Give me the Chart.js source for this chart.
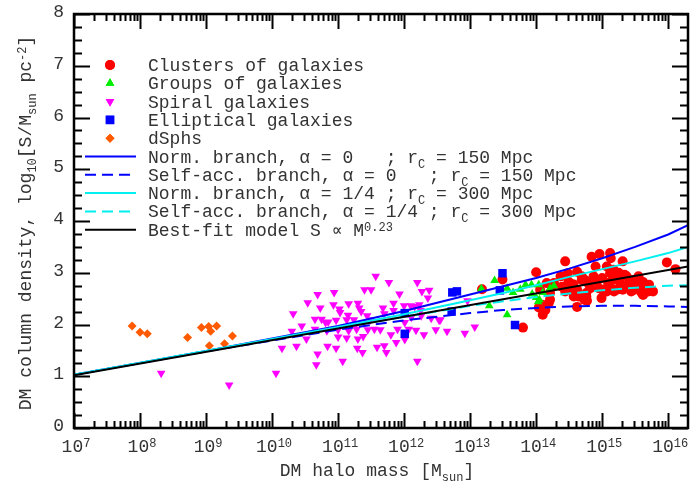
<!DOCTYPE html>
<html>
<head>
<meta charset="utf-8">
<script src="https://cdn.jsdelivr.net/npm/chart.js@4/dist/chart.umd.min.js"></script>
<style>
  html, body { margin: 0; padding: 0; background: #fff; }
</style>
</head>
<body>
<canvas id="chart" width="694" height="486"></canvas>
<script>
// log10(M / Msun) and log10(S / Msun pc^-2) for each sample
const clusterLogM = [13.18, 13.49, 13.80, 14.00, 14.04, 14.10, 14.14, 14.21, 14.27, 14.21, 14.19, 14.16, 14.24, 14.06, 14.09,
  14.37, 14.39, 14.44, 14.48, 14.49, 14.44, 14.52, 14.56, 14.57, 14.62, 14.62, 14.62, 14.64, 14.69, 14.69, 14.73, 14.74,
  14.76, 14.76, 14.77, 14.80, 14.82, 14.84, 14.87, 14.90, 14.92, 14.95, 14.96, 14.99, 15.00, 15.01, 15.07, 15.07, 15.09,
  15.12, 15.13, 15.12, 15.14, 15.15, 15.17, 15.18, 15.19, 15.22, 15.25, 15.26, 15.31, 15.31, 15.34, 15.37, 15.39, 15.44,
  15.46, 15.49, 15.52, 15.55, 15.55, 15.60, 15.62, 15.62, 15.65, 15.70, 15.71, 15.77, 15.98, 16.11];
const clusterLogS = [2.68, 2.87, 1.94, 3.01, 2.33, 2.19, 2.28, 2.48, 2.80, 2.61, 2.41, 2.80, 2.72, 2.67, 2.38,
  2.93, 2.73, 3.22, 2.99, 2.83, 2.64, 2.70, 2.78, 2.54, 2.34, 3.02, 2.67, 2.54, 2.86, 2.93, 2.48, 2.86,
  2.61, 2.54, 2.46, 2.78, 2.70, 3.31, 2.93, 3.12, 2.83, 2.70, 3.36, 2.51, 2.90, 2.67, 3.12, 2.64, 2.80,
  3.38, 3.28, 2.99, 2.68, 2.85, 3.06, 2.64, 2.93, 2.67, 3.00, 2.83, 3.22, 2.67, 2.96, 2.93, 2.77, 2.64,
  2.86, 2.67, 2.80, 2.93, 2.75, 2.61, 2.57, 2.82, 2.70, 2.64, 2.77, 2.64, 3.20, 3.07];

const groupLogM = [13.17, 13.37, 13.29, 13.56, 13.56, 13.76, 13.84, 13.93, 14.04, 13.94, 14.00, 14.03, 14.21, 14.27, 14.10, 13.65, 14.05];
const groupLogS = [2.69, 2.85, 2.36, 2.19, 2.70, 2.68, 2.77, 2.77, 2.77, 2.59, 2.52, 2.44, 2.70, 2.75, 2.62, 2.62, 2.48];

const spiralLogM = [8.32, 9.35, 10.06, 10.15, 10.30, 10.32, 10.37, 10.45, 10.52, 10.54, 10.65, 10.65, 10.67, 10.69, 10.69,
  10.73, 10.75, 10.81, 10.83, 10.84, 10.85, 10.93, 10.94, 10.97, 10.97, 11.00, 11.00, 11.02, 11.03, 11.07, 11.13, 11.13,
  11.15, 11.16, 11.16, 11.24, 11.27, 11.28, 11.29, 11.30, 11.30, 11.32, 11.35, 11.37, 11.38, 11.39, 11.40, 11.44, 11.45,
  11.49, 11.50, 11.55, 11.57, 11.59, 11.64, 11.68, 11.70, 11.70, 11.73, 11.77, 11.80, 11.84, 11.84, 11.88, 11.90, 11.93,
  12.00, 12.01, 12.01, 12.07, 12.10, 12.11, 12.16, 12.18, 12.20, 12.20, 12.23, 12.25, 12.26, 12.27, 12.30, 12.36, 12.38,
  12.41, 12.48, 12.53, 12.55, 12.65, 12.92, 13.07, 12.96];
const spiralLogS = [1.06, 0.83, 1.06, 1.54, 1.87, 2.21, 1.58, 1.97, 1.72, 2.42, 1.91, 2.10, 1.22, 1.43, 2.58,
  2.32, 2.10, 2.04, 1.88, 1.58, 2.05, 2.38, 2.62, 1.54, 2.08, 1.90, 1.76, 2.30, 2.23, 1.29, 1.74, 2.09,
  2.18, 2.40, 1.88, 2.09, 2.01, 1.91, 1.54, 2.41, 1.72, 2.32, 2.25, 1.46, 1.77, 2.04, 2.67, 2.17, 1.90,
  2.09, 2.67, 1.91, 2.93, 1.56, 1.90, 2.32, 1.59, 2.21, 1.46, 2.81, 1.80, 2.41, 2.27, 1.65, 1.91, 2.59,
  2.36, 2.04, 1.71, 1.91, 2.36, 2.14, 2.35, 1.89, 2.81, 1.29, 2.38, 2.27, 2.17, 2.64, 1.80, 2.51, 2.66,
  2.12, 1.90, 2.08, 2.09, 1.87, 1.83, 1.95, 2.46];

const ellipticalLogM = [12.01, 12.01, 12.72, 12.73, 12.80, 13.45, 13.49, 13.68];
const ellipticalLogS = [1.82, 2.22, 2.25, 2.62, 2.64, 2.66, 2.99, 1.99];

const dsphLogM = [7.88, 8.00, 8.11, 8.72, 8.93, 9.04, 9.07, 9.16, 9.05, 9.28, 9.40];
const dsphLogS = [1.97, 1.85, 1.82, 1.75, 1.94, 1.96, 1.87, 1.97, 1.59, 1.63, 1.78];

// model curves
const modelLogM = [7, 9, 11, 12, 13, 13.5, 14, 14.5, 15, 15.5, 16, 16.3];
const normAlpha0 = [1.03, 1.49, 1.97, 2.26, 2.58, 2.74, 2.90, 3.08, 3.28, 3.50, 3.74, 3.92];
const selfAlpha0 = [1.03, 1.48, 1.90, 2.08, 2.22, 2.28, 2.32, 2.35, 2.36, 2.36, 2.35, 2.34];
const normAlphaQ = [1.03, 1.49, 1.95, 2.20, 2.47, 2.61, 2.76, 2.92, 3.07, 3.22, 3.38, 3.50];
const selfAlphaQ = [1.03, 1.49, 1.93, 2.15, 2.36, 2.45, 2.53, 2.60, 2.66, 2.71, 2.75, 2.76];
const bestFitLogM = [7, 16.3];
const bestFit = [1.02, 3.12];

const xTickExps = [7, 8, 9, 10, 11, 12, 13, 14, 15, 16];
const yTickLabels = [0, 1, 2, 3, 4, 5, 6, 7, 8];

const FONT = '"Liberation Mono", "Courier New", monospace';
const TEXT = '#333';
const BLUE = '#0000ff';
const CYAN = '#00f0f0';

const pts = (ms, ss) => ms.map((m, i) => ({ x: 10 ** m, y: ss[i] }));

function lineSet(label, ms, ss, color, dash) {
  return {
    type: 'line', label, data: pts(ms, ss), borderColor: color, borderWidth: 2,
    borderDash: dash || [], pointRadius: 0, fill: false, tension: 0
  };
}
function pointSet(label, ms, ss, color, style, radius, rotation) {
  return {
    type: 'scatter', label, data: pts(ms, ss), pointStyle: style, pointRadius: radius,
    pointRotation: rotation || 0, backgroundColor: color, borderColor: color, pointBorderWidth: 0
  };
}

const DASH = [11, 6];
const legendRows = [
  { kind: 'pt', color: '#ff0000', style: 'circle', r: 5, text: [['Clusters of galaxies', 0]] },
  { kind: 'pt', color: '#00ee00', style: 'triangle', r: 5, text: [['Groups of galaxies', 0]] },
  { kind: 'pt', color: '#ff00ff', style: 'triangle', r: 5, rot: 180, text: [['Spiral galaxies', 0]] },
  { kind: 'pt', color: BLUE, style: 'rect', r: 6, text: [['Elliptical galaxies', 0]] },
  { kind: 'pt', color: '#ff5a00', style: 'rectRot', r: 4.5, text: [['dSphs', 0]] },
  { kind: 'ln', color: BLUE, text: [['Norm. branch, \u03b1 = 0   ; r', 0], ['C', -1], [' = 150 Mpc', 0]] },
  { kind: 'ln', color: BLUE, dash: DASH, text: [['Self-acc. branch, \u03b1 = 0   ; r', 0], ['C', -1], [' = 150 Mpc', 0]] },
  { kind: 'ln', color: CYAN, text: [['Norm. branch, \u03b1 = 1/4 ; r', 0], ['C', -1], [' = 300 Mpc', 0]] },
  { kind: 'ln', color: CYAN, dash: DASH, text: [['Self-acc. branch, \u03b1 = 1/4 ; r', 0], ['C', -1], [' = 300 Mpc', 0]] },
  { kind: 'ln', color: '#000', text: [['Best-fit model S \u221d M', 0], ['0.23', 1]] }
];

// draws text with super/subscripts; kind 0 normal, 1 sup, -1 sub
function rich(ctx, parts, x, y, align) {
  const fontOf = k => (k ? 12 : 18) + 'px ' + FONT;
  let w = 0;
  for (const [t, k] of parts) { ctx.font = fontOf(k); w += ctx.measureText(t).width; }
  let cx = align === 'center' ? x - w / 2 : align === 'right' ? x - w : x;
  ctx.textAlign = 'left';
  ctx.textBaseline = 'alphabetic';
  for (const [t, k] of parts) {
    ctx.font = fontOf(k);
    ctx.fillText(t, cx, y + (k === 1 ? -5 : k === -1 ? 5 : 0));
    cx += ctx.measureText(t).width;
  }
}

const decorations = {
  id: 'decorations',
  beforeDraw(chart) {
    const { ctx, width, height } = chart;
    ctx.save();
    ctx.fillStyle = '#fff';
    ctx.fillRect(0, 0, width, height);
    ctx.restore();
  },
  afterDatasetsDraw(chart) {
    const { ctx, chartArea: a, scales: { x, y } } = chart;
    ctx.save();
    ctx.strokeStyle = '#000';
    ctx.lineWidth = 2;
    ctx.beginPath();
    // x ticks, bottom and top, pointing inwards
    for (const n of xTickExps) {
      for (let k = 1; k <= 9; k++) {
        const v = k * 10 ** n;
        if (v > x.max * 1.0001) break;
        const px = Math.round(x.getPixelForValue(v)) + 0.5;
        const len = k === 1 ? 15 : 7;
        ctx.moveTo(px, a.bottom); ctx.lineTo(px, a.bottom - len);
        ctx.moveTo(px, a.top); ctx.lineTo(px, a.top + len);
      }
    }
    // y ticks every 0.25, left and right
    for (let v = 0; v <= 8; v += 0.25) {
      const py = Math.round(y.getPixelForValue(v)) + 0.5;
      const len = Number.isInteger(v) ? 16 : 8;
      ctx.moveTo(a.left, py); ctx.lineTo(a.left + len, py);
      ctx.moveTo(a.right, py); ctx.lineTo(a.right - len, py);
    }
    ctx.stroke();
    ctx.lineWidth = 2.5;
    ctx.strokeRect(a.left, a.top, a.right - a.left, a.bottom - a.top);
    ctx.restore();
  },
  afterDraw(chart) {
    const { ctx, chartArea: a, scales: { x, y } } = chart;
    ctx.save();
    ctx.fillStyle = TEXT;

    for (const n of xTickExps) {
      rich(ctx, [['10', 0], [String(n), 1]], x.getPixelForValue(10 ** n) + 2, 452, 'center');
    }
    for (const v of yTickLabels) {
      rich(ctx, [[String(v), 0]], 64, y.getPixelForValue(v) + 3, 'right');
    }

    rich(ctx, [['DM halo mass [M', 0], ['sun', -1], [']', 0]], 377, 476, 'center');

    ctx.save();
    ctx.translate(31, (a.top + a.bottom) / 2 + 2);
    ctx.rotate(-Math.PI / 2);
    rich(ctx, [['DM column density, log', 0], ['10', -1], ['[S/M', 0], ['sun', -1], [' pc', 0], ['-2', 1], [']', 0]], 0, 0, 'center');
    ctx.restore();

    // legend
    legendRows.forEach((row, i) => {
      const ry = 65 + i * 18.3;
      if (row.kind === 'pt') {
        ctx.fillStyle = row.color;
        ctx.beginPath();
        Chart.helpers.drawPoint(ctx, { pointStyle: row.style, rotation: row.rot || 0, radius: row.r, borderWidth: 0 }, 110, ry);
        ctx.fill();
      } else {
        ctx.strokeStyle = row.color;
        ctx.lineWidth = 2;
        ctx.setLineDash(row.dash || []);
        ctx.beginPath();
        ctx.moveTo(85, ry); ctx.lineTo(136, ry);
        ctx.stroke();
        ctx.setLineDash([]);
      }
      ctx.fillStyle = TEXT;
      rich(ctx, row.text, 148, ry + 6, 'left');
    });
    ctx.restore();
  }
};

new Chart(document.getElementById('chart'), {
  type: 'scatter',
  data: {
    datasets: [
      lineSet('Best-fit model', bestFitLogM, bestFit, '#000'),
      lineSet('Self-acc. branch, alpha = 1/4', modelLogM, selfAlphaQ, CYAN, DASH),
      lineSet('Norm. branch, alpha = 1/4', modelLogM, normAlphaQ, CYAN),
      lineSet('Self-acc. branch, alpha = 0', modelLogM, selfAlpha0, BLUE, DASH),
      lineSet('Norm. branch, alpha = 0', modelLogM, normAlpha0, BLUE),
      pointSet('dSphs', dsphLogM, dsphLogS, '#ff5a00', 'rectRot', 4.5),
      pointSet('Elliptical galaxies', ellipticalLogM, ellipticalLogS, BLUE, 'rect', 6),
      pointSet('Spiral galaxies', spiralLogM, spiralLogS, '#ff00ff', 'triangle', 5, 180),
      pointSet('Groups of galaxies', groupLogM, groupLogS, '#00ee00', 'triangle', 5),
      pointSet('Clusters of galaxies', clusterLogM, clusterLogS, '#ff0000', 'circle', 5)
    ]
  },
  options: {
    responsive: false,
    animation: false,
    events: [],
    layout: { padding: { left: 74, right: 2, top: 14, bottom: 58 } },
    plugins: { legend: { display: false }, tooltip: { enabled: false } },
    scales: {
      x: { type: 'logarithmic', min: 1e7, max: 10 ** 16.3, display: false },
      y: { type: 'linear', min: 0, max: 8, display: false }
    }
  },
  plugins: [decorations]
});
</script>
</body>
</html>
